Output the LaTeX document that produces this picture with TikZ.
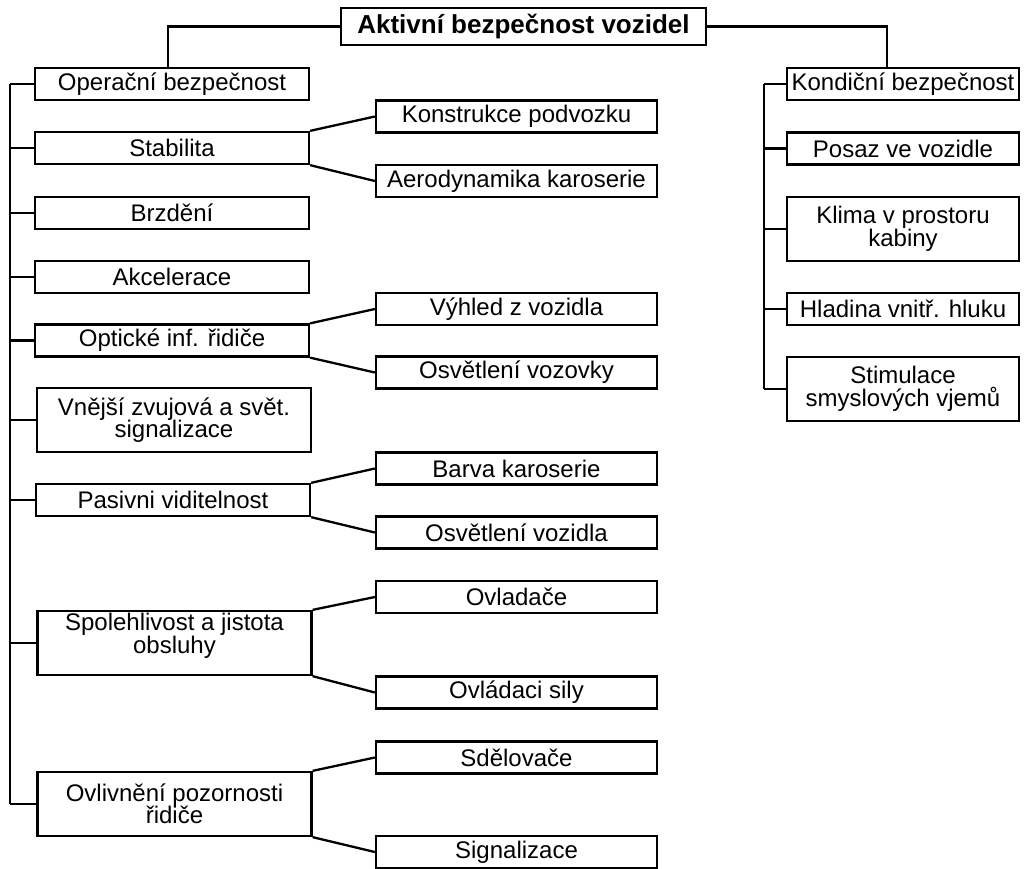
\documentclass[tikz,border=0pt]{standalone}
\usepackage{fontspec}
\setmainfont{Liberation Sans}
\begin{document}
\begin{tikzpicture}[x=1pt,y=-1pt,
  box/.style={draw, line width=2.3pt, inner sep=0pt, align=center,
    font=\fontsize{24}{22.5}\selectfont},
  lbox/.style={box, minimum width=274pt, minimum height=32pt},
  cbox/.style={box, minimum width=281pt, minimum height=32pt},
  rbox/.style={box, minimum width=232pt, minimum height=32pt},
  tall/.style={minimum height=64pt},
  txt/.style={inner sep=0pt, align=center, font=\fontsize{24}{22.5}\selectfont},
  conn/.style={line width=2.3pt}]
\useasboundingbox (0,0) rectangle (1028,868);
\fill[white] (0,0) rectangle (1028,868);

% root
\node[box, minimum width=365pt, minimum height=37pt, line width=2.6pt,
  font=\fontsize{26}{26}\selectfont\bfseries] (top) at (523.5,26.5) {Aktivní bezpečnost vozidel};

% left column
\node[lbox] (oper) at (172,84) {Operační bezpečnost};
\node[lbox] (stab) at (172,148) {Stabilita};
\node[lbox] (brzd) at (172,213) {Brzdění};
\node[lbox] (akc)  at (172,277) {Akcelerace};
\node[lbox] (opt)  at (172,340.5) {Optické inf. řidiče};
\node[lbox, tall] (vnej) at (174,420) {Vnější zvujová a svět.\\signalizace};
\node[lbox] (pas)  at (173,500) {Pasivni viditelnost};
\node[lbox, tall] (spol) at (174.5,643) {};
\node[txt] (spolt) at (174.5,636) {Spolehlivost a jistota\\obsluhy};
\node[lbox, tall] (ovliv) at (174.5,804) {Ovlivnění pozornosti\\řidiče};

% middle column
\node[cbox] (kons) at (516.5,116.5) {Konstrukce podvozku};
\node[cbox] (aero) at (516.5,181) {Aerodynamika karoserie};
\node[cbox] (vyhl) at (516.5,309) {Výhled z vozidla};
\node[cbox] (osvo) at (516.5,372.5) {Osvětlení vozovky};
\node[cbox] (barv) at (516.5,468.5) {Barva karoserie};
\node[cbox] (osvz) at (516.5,532.5) {Osvětlení vozidla};
\node[cbox] (ovla) at (516.5,597) {Ovladače};
\node[cbox] (ovsi) at (516.5,692.5) {Ovládaci sily};
\node[cbox] (sdel) at (516.5,757.5) {Sdělovače};
\node[cbox] (sign) at (516.5,852) {Signalizace};

% right column
\node[rbox] (kond)  at (903,84) {Kondiční bezpečnost};
\node[rbox] (posaz) at (903,148.5) {Posaz ve vozidle};
\node[rbox, tall] (klima) at (903,229) {Klima v prostoru\\kabiny};
\node[rbox] (hlad)  at (903,309) {Hladina vnitř. hluku};
\node[rbox, tall] (stim) at (903,389) {Stimulace\\smyslových vjemů};

% root connectors
\draw[conn] (top.west) -| ([xshift=-4pt]oper.north);
\draw[conn] (top.east) -| ([xshift=-16pt]kond.north);

% left trunk
\coordinate (lt) at (10,0);
\draw[conn] (oper.west -| lt) -- (ovliv.west -| lt);
\foreach \n in {oper,stab,brzd,akc,opt,vnej,pas,spol,ovliv}
  \draw[conn] (\n.west -| lt) -- (\n.west);

% right trunk
\coordinate (rt) at (764,0);
\draw[conn] (kond.west -| rt) -- (stim.west -| rt);
\foreach \n in {kond,posaz,klima,hlad,stim}
  \draw[conn] (\n.west -| rt) -- (\n.west);

% branches
\draw[conn] (stab.north east) -- (kons.west);
\draw[conn] (stab.south east) -- (aero.west);
\draw[conn] (opt.north east) -- (vyhl.west);
\draw[conn] (opt.south east) -- (osvo.west);
\draw[conn] (pas.north east) -- (barv.west);
\draw[conn] (pas.south east) -- (osvz.west);
\draw[conn] (spol.north east) -- (ovla.west);
\draw[conn] (spol.south east) -- (ovsi.west);
\draw[conn] (ovliv.north east) -- (sdel.west);
\draw[conn] (ovliv.south east) -- (sign.west);
\end{tikzpicture}
\end{document}
